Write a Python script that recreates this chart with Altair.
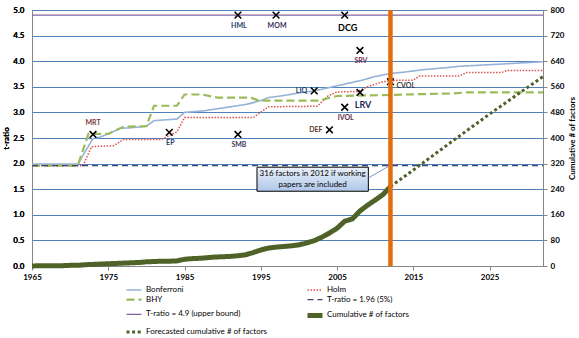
import altair as alt
import pandas as pd

# ---------------- data ----------------
bonf_year = [1965, 1971, 1973, 1974, 1975, 1976.6, 1978, 1980, 1981, 1984,
             1985, 1987.5, 1989.7, 1993.2, 1995, 1996, 1997.6, 2000, 2002, 2005,
             2008, 2010, 2012, 2014, 2016, 2019, 2021, 2026, 2032]
bonf_t = [1.99, 1.99, 2.49, 2.52, 2.58, 2.69, 2.70, 2.73, 2.84, 2.87,
          3.00, 3.03, 3.08, 3.16, 3.23, 3.29, 3.32, 3.38, 3.42, 3.52,
          3.62, 3.70, 3.76, 3.79, 3.83, 3.87, 3.90, 3.94, 3.99]

holm_year = [1965, 1971.7, 1972.8, 1975.7, 1977, 1982, 1983, 1984, 1985, 1994,
             1996, 2002.4, 2003.8, 2005, 2007.7, 2009, 2011, 2013, 2015, 2015.8,
             2021, 2022, 2026.6, 2027.3, 2032]
holm_t = [1.96, 1.96, 2.33, 2.35, 2.47, 2.47, 2.55, 2.62, 2.90, 2.90,
          3.11, 3.12, 3.32, 3.40, 3.41, 3.50, 3.60, 3.63, 3.63, 3.71,
          3.71, 3.78, 3.78, 3.82, 3.82]

bhy_year = [1965, 1971, 1972.4, 1975, 1976, 1977, 1980, 1981, 1984, 1985,
            1987.3, 1989.3, 1993.7, 1994.7, 2002.5, 2005, 2012, 2014, 2020, 2022, 2032]
bhy_t = [1.96, 1.96, 2.58, 2.58, 2.65, 2.72, 2.73, 3.13, 3.13, 3.35,
         3.35, 3.29, 3.29, 3.23, 3.23, 3.32, 3.34, 3.35, 3.37, 3.39, 3.39]

bound_years = [1965, 2032]
t_5pct = 1.96
t_upper = 4.9

cum_years = list(range(1965, 2013))
cum_factors = [0, 1, 1, 1, 1, 2, 2, 4, 5, 6,
               7, 8, 9, 10, 11, 13, 14, 15, 15, 16,
               21, 23, 24, 26, 28, 29, 30, 32, 35, 42,
               50, 56, 59, 61, 63, 66, 72, 79, 90, 103,
               118, 140, 147, 172, 190, 206, 223, 248]

fc_years = [2012, 2015, 2020, 2025, 2032]
fc_factors = [248, 300, 388, 475, 592]

factor_labels = ["MRT", "EP", "SMB", "HML", "MOM", "DCG", "SRV", "LIQ", "LRV", "IVOL", "DEF", "CVOL"]
factor_years = [1973, 1983, 1992, 1992, 1997, 2006, 2008, 2002, 2008, 2006, 2004, 2012]
factor_t = [2.57, 2.61, 2.57, 4.90, 4.90, 4.90, 4.21, 3.42, 3.39, 3.10, 2.66, 3.60]
factor_pos = ["above", "below", "below", "below", "below", "bigbelow", "below", "left", "bigbelow", "below", "left", "right"]
factor_color = ["#7b3b3b", "#1f3b6b", "#3b3b5b", "#1f3b6b", "#3b2b5b", "#000000",
                "#6b2b4b", "#1f3b6b", "#1f2b5b", "#5b2b4b", "#5b3b2b", "#3b3b3b"]

cutoff_year = 2012
box_years = [1994.5, 2009.1]
box_t = [1.46, 1.93]
box_text = ["316  factors in 2012 if  working", "papers are included"]
box_text_year = [2001.8, 2001.8]
box_text_t = [1.80, 1.59]
arrow_years = [2009.1, 2011.8]
arrow_t = [1.72, 1.95]

series_order = ["Bonferroni", "Holm", "BHY", "T-ratio = 1.96 (5%)",
                "T-ratio = 4.9 (upper bound)", "Cumulative # of factors",
                "Forecasted cumulative # of factors"]
series_colors = ["#95B3D7", "#D9534F", "#9BBB59", "#403F7A", "#8064A2", "#4F6228", "#4F6228"]
series_dash = [[1, 0], [1.5, 1.5], [8, 4], [6, 4], [1, 0], [1, 0], [3, 2.6]]
series_width = [1.6, 1.5, 2.2, 1.2, 1.2, 5, 3]

# ---------------- tables ----------------
left_df = pd.concat([
    pd.DataFrame({"series": "Bonferroni", "year": bonf_year, "t": bonf_t}),
    pd.DataFrame({"series": "Holm", "year": holm_year, "t": holm_t}),
    pd.DataFrame({"series": "BHY", "year": bhy_year, "t": bhy_t}),
    pd.DataFrame({"series": "T-ratio = 1.96 (5%)", "year": bound_years, "t": [t_5pct] * 2}),
    pd.DataFrame({"series": "T-ratio = 4.9 (upper bound)", "year": bound_years, "t": [t_upper] * 2}),
], ignore_index=True)

right_df = pd.concat([
    pd.DataFrame({"series": "Cumulative # of factors", "year": cum_years, "n": cum_factors}),
    pd.DataFrame({"series": "Forecasted cumulative # of factors", "year": fc_years, "n": fc_factors}),
], ignore_index=True)

marker_df = pd.DataFrame({"year": factor_years, "t": factor_t, "label": factor_labels,
                          "pos": factor_pos, "lc": factor_color})

FONT = "Lato"

xscale = alt.Scale(domain=[1965, 2032], nice=False, zero=False)
xaxis = alt.Axis(values=[1965, 1975, 1985, 1995, 2005, 2015, 2025], format="d", grid=False,
                 domainColor="#868686", tickColor="#868686", tickSize=4,
                 labelFont=FONT, labelFontWeight="bold", labelFontSize=8, labelPadding=3,
                 labelColor="#000000", title=None, labelFlush=False)
yscale = alt.Scale(domain=[0, 5], nice=False, zero=True)
yaxis = alt.Axis(values=[i * 0.5 for i in range(11)], format=".1f", grid=True,
                 gridColor="#4F81BD", gridWidth=1, domainColor="#868686", ticks=False,
                 labelPadding=8, labelFont=FONT, labelFontWeight="bold", labelFontSize=8,
                 labelColor="#000000", title="t-ratio", titleFont=FONT, titleFontSize=8,
                 titleFontWeight="bold", titleColor="#000000", titleX=-26, titleY=128,
                 titleAngle=270, titleAlign="center", titleBaseline="middle")


def X(field="year:Q"):
    return alt.X(field, scale=xscale, axis=xaxis)


def Y(field="t:Q"):
    return alt.Y(field, scale=yscale, axis=yaxis)


color_enc = alt.Color("series:N", scale=alt.Scale(domain=series_order, range=series_colors),
                      legend=alt.Legend(title=None))
dash_enc = alt.StrokeDash("series:N", scale=alt.Scale(domain=series_order, range=series_dash),
                          legend=alt.Legend(title=None))
width_enc = alt.StrokeWidth("series:N",
                            scale=alt.Scale(type="ordinal", domain=series_order, range=series_width),
                            legend=alt.Legend(title=None))

left_lines = alt.Chart(left_df).mark_line().encode(
    x=X(), y=Y(), color=color_enc, strokeDash=dash_enc, strokeWidth=width_enc)

cut_rule = alt.Chart(pd.DataFrame({"year": [cutoff_year], "t": [0], "t2": [5]})).mark_rule(
    color="#E46C0A", strokeWidth=4.5).encode(x=X(), y=Y(), y2="t2:Q")

markers = alt.Chart(marker_df).mark_point(
    shape="M-1,-1L1,1M-1,1L1,-1", filled=False, stroke="black", strokeWidth=1.6,
    size=45, opacity=1).encode(x=X(), y=Y())


def label_layer(pos, dx, dy, size, align="center"):
    return alt.Chart(marker_df).transform_filter(alt.datum.pos == pos).mark_text(
        dx=dx, dy=dy, fontSize=size, font=FONT, fontWeight="bold", align=align,
        baseline="middle").encode(x=X(), y=Y(), text="label:N",
                                  fill=alt.Fill("lc:N", scale=None, legend=None))


labels = [
    label_layer("above", 0, -11, 7),
    label_layer("below", 1, 11, 7),
    label_layer("bigbelow", 3, 13, 9),
    label_layer("left", -7, 0, 7, "right"),
    label_layer("right", 6, 4, 7, "left"),
]

box_fill = alt.Gradient(gradient="linear", x1=0, y1=0, x2=0, y2=1,
                        stops=[alt.GradientStop(color="#EAF0F9", offset=0),
                               alt.GradientStop(color="#AFC7E8", offset=1)])
box = alt.Chart(pd.DataFrame({"year": [box_years[0]], "year2": [box_years[1]],
                              "t": [box_t[0]], "t2": [box_t[1]]})).mark_rect(
    fill=box_fill, stroke="black", strokeWidth=1).encode(x=X(), x2="year2:Q", y=Y(), y2="t2:Q")

box_txt = alt.Chart(pd.DataFrame({"year": box_text_year, "t": box_text_t, "txt": box_text})).mark_text(
    font=FONT, fontSize=8, color="black", align="center", baseline="middle").encode(
    x=X(), y=Y(), text="txt:N")

arrow = alt.Chart(pd.DataFrame({"year": [arrow_years[0]], "year2": [arrow_years[1]],
                                "t": [arrow_t[0]], "t2": [arrow_t[1]]})).mark_rule(
    color="#4F81BD", strokeWidth=0.8).encode(x=X(), x2="year2:Q", y=Y(), y2="t2:Q")

left = alt.layer(left_lines, box, box_txt, arrow, markers, *labels)

right_lines = alt.Chart(right_df).mark_line().encode(
    x=X(),
    y=alt.Y("n:Q", scale=alt.Scale(domain=[0, 800], nice=False),
            axis=alt.Axis(orient="right", values=list(range(0, 801, 80)), grid=False,
                          domainColor="#868686", tickColor="#868686", tickSize=4,
                          labelPadding=3, labelFont=FONT, labelFontWeight="bold",
                          labelFontSize=8, labelColor="#000000",
                          title="Cumulative # of factors", titleFont=FONT, titleFontSize=8,
                          titleFontWeight="bold", titleColor="#000000", titleX=29, titleY=128,
                          titleAngle=270, titleAlign="center", titleBaseline="middle")),
    color=color_enc, strokeDash=dash_enc, strokeWidth=width_enc)

chart = alt.layer(left, right_lines, cut_rule).resolve_scale(y="independent").properties(
    width=511, height=256,
    padding={"left": 32, "top": 10, "right": 36, "bottom": 72},
    autosize=alt.AutoSizeParams(type="none"),
).configure_view(stroke=None).configure_legend(
    orient="none", legendX=97, legendY=276, columns=2, direction="horizontal",
    columnPadding=29, rowPadding=0.7, gridAlign="each",
    symbolType="M-3,0L3,0", symbolSize=25, labelOffset=7,
    labelFont=FONT, labelFontSize=8,
    labelColor="#000000", labelLimit=300, padding=0, symbolOpacity=1,
)

chart.save("out.html", embed_options={"renderer": "svg", "actions": False})
